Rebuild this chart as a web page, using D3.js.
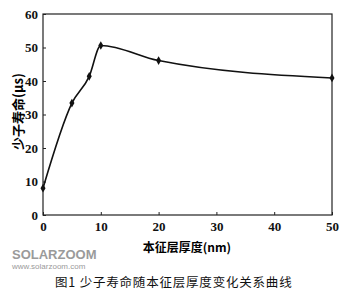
<!DOCTYPE html>
<html>
<head>
<meta charset="utf-8">
<script src="https://cdn.jsdelivr.net/npm/d3@7"></script>
<style>
  body { margin: 0; background: #fff; }
  svg { display: block; }
</style>
</head>
<body>
<svg id="chart" width="358" height="294"></svg>
<script>
// data
const thickness = [0, 5, 8, 10, 20, 50];          // nm
const lifetime = [8, 33.4, 41.4, 50.6, 46.1, 40.9]; // µs
const xTicks = [0, 10, 20, 30, 40, 50];
const yTicks = [0, 10, 20, 30, 40, 50, 60];

(function() {
  let svg = d3.select('#chart');
  let margin = { left: 43, right: 26, top: 14, bottom: 79 };
  let width = 358 - margin.left - margin.right,
      height = 294 - margin.top - margin.bottom;

  let x = d3.scaleLinear().domain([0, 50]).range([margin.left, margin.left + width]);
  let y = d3.scaleLinear().domain([0, 60]).range([margin.top + height, margin.top]);

  let tickFont = '"Liberation Serif", "DejaVu Serif", serif';
  let cjkFont = '"Noto Sans CJK SC", sans-serif';

  // frame
  svg.append('rect')
    .attr('x', x(0)).attr('y', y(60))
    .attr('width', x(50) - x(0)).attr('height', y(0) - y(60))
    .attr('fill', 'none').attr('stroke', '#222').attr('stroke-width', 1.2);

  // axes with inward ticks
  let xAxis = svg.append('g')
    .attr('transform', `translate(0,${y(0)})`)
    .call(d3.axisBottom(x).tickValues(xTicks).tickSize(-3).tickPadding(7));
  let yAxis = svg.append('g')
    .attr('transform', `translate(${x(0)},0)`)
    .call(d3.axisLeft(y).tickValues(yTicks).tickSize(-3).tickPadding(5));

  [xAxis, yAxis].forEach((g) => {
    g.select('.domain').remove();
    g.selectAll('line').attr('stroke', '#222').attr('stroke-width', 1);
    g.selectAll('text')
      .attr('fill', '#111')
      .style('font-family', tickFont)
      .style('font-size', '13px')
      .style('font-weight', 'bold');
  });

  // curve
  let points = thickness.map((t, i) => ({ t: t, v: lifetime[i] }));
  let line = d3.line()
    .x((d) => x(d.t))
    .y((d) => y(d.v))
    .curve(d3.curveMonotoneX);

  svg.append('path')
    .datum(points)
    .attr('d', line)
    .attr('fill', 'none')
    .attr('stroke', '#111')
    .attr('stroke-width', 1.6);

  svg.append('g').selectAll('path')
    .data(points)
    .enter().append('path')
      .attr('d', d3.symbol().type(d3.symbolDiamond).size(22))
      .attr('transform', (d) => `translate(${x(d.t)},${y(d.v)})`)
      .attr('fill', '#111');

  // axis titles
  svg.append('text')
    .attr('transform', `translate(17,${(y(0) + y(60)) / 2 - 3}) rotate(-90)`)
    .attr('text-anchor', 'middle')
    .attr('dominant-baseline', 'central')
    .style('font-family', cjkFont)
    .style('font-size', '13px')
    .style('font-weight', 'bold')
    .text('少子寿命(μs)');

  svg.append('text')
    .attr('x', 187).attr('y', 246)
    .attr('text-anchor', 'middle')
    .attr('dominant-baseline', 'central')
    .style('font-family', cjkFont)
    .style('font-size', '12px')
    .style('font-weight', 'bold')
    .text('本征层厚度(nm)');

  // watermark, kept just above the caption
  svg.append('text')
    .attr('x', 12).attr('y', 259)
    .style('font-family', '"Liberation Sans", sans-serif')
    .style('font-size', '13px')
    .style('font-weight', 'bold')
    .attr('fill', '#9a9a9a')
    .text('SOLARZOOM');
  svg.append('text')
    .attr('x', 12).attr('y', 269)
    .style('font-family', '"Liberation Sans", sans-serif')
    .style('font-size', '8px')
    .attr('fill', '#9a9a9a')
    .text('www.solarzoom.com');

  // caption
  svg.append('text')
    .attr('x', 55).attr('y', 281)
    .attr('dominant-baseline', 'central')
    .style('font-family', cjkFont)
    .style('font-size', '12.5px')
    .style('letter-spacing', '0.8px')
    .attr('fill', '#111')
    .text('图1  少子寿命随本征层厚度变化关系曲线');
})();
</script>
</body>
</html>
